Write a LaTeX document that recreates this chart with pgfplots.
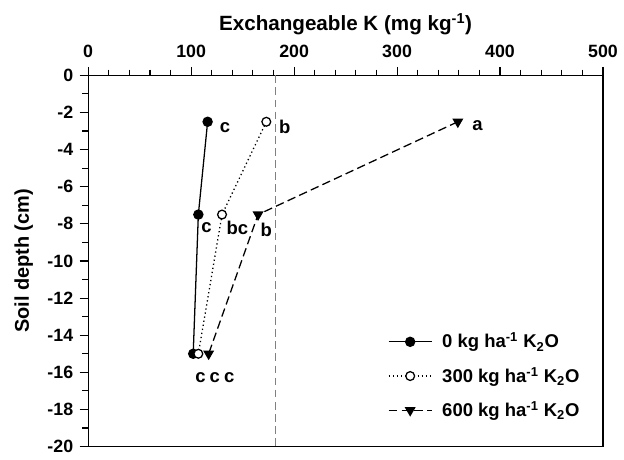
\documentclass[border=0pt]{standalone}
\usepackage{fontspec}
\setmainfont{Liberation Sans}
\usepackage{pgfplots}
\pgfplotsset{compat=1.18}
\begin{document}
\fontsize{13}{15}\selectfont\bfseries
\begin{tikzpicture}
\begin{axis}[
  scale only axis,
  width=362pt, height=261pt,
  xmin=0, xmax=500, ymin=-20, ymax=0,
  xtick={0,100,...,500}, ytick={-20,-18,...,0},
  minor x tick num=4, minor y tick num=1,
  xtick pos=right, xticklabel pos=right,
  ytick pos=left,
  tick align=outside,
  major tick length=6pt, minor tick length=4pt,
  tick style={black, line width=0.8pt},
  axis line style={line width=0.9pt},
  /pgf/number format/assume math mode=true,
  ticklabel style={font=\fontsize{12.5}{15}\selectfont\bfseries},
  xticklabel shift=2pt,
  xlabel={Exchangeable K (mg kg\textsuperscript{-1})},
  xlabel style={font=\fontsize{14.5}{17}\selectfont\bfseries},
  ylabel={Soil depth (cm)},
  ylabel style={font=\fontsize{14}{16}\selectfont\bfseries},
  x label style={at={(axis description cs:0.5,1.12)}, anchor=base},
  y label style={at={(axis description cs:-0.125,0.5)}, anchor=center},
  legend style={draw=none, fill=none, at={(axis cs:291,-16.2)}, anchor=west,
    font=\fontsize{13}{15}\selectfont\bfseries, row sep=7.5pt, column sep=5pt, inner sep=0pt},
  legend cell align=left,
  legend image code/.code={\draw[mark repeat=2,mark phase=2,#1] plot coordinates {(0cm,0cm) (0.53cm,0cm) (1.06cm,0cm)};},
]
\addplot[gray, line width=0.9pt, dash pattern=on 5.5pt off 3pt, forget plot] coordinates {(182,0) (182,-20)};
\addplot[black, line width=0.9pt, mark=*, mark size=3.2pt] coordinates {(116,-2.5) (107,-7.5) (102,-15)};
\addlegendentry{0 kg ha\textsuperscript{-1} K\textsubscript{2}O}
\addplot[black, line width=0.9pt, dotted, mark=*, mark size=3.1pt, mark options={solid, fill=white, draw=black}] coordinates {(173,-2.5) (130,-7.5) (107,-15)};
\addlegendentry{300 kg ha\textsuperscript{-1} K\textsubscript{2}O}
\addplot[black, line width=0.9pt, dash pattern=on 6pt off 3pt, mark=triangle*, mark size=3.6pt, mark options={solid, rotate=180}] coordinates {(359,-2.5) (165,-7.5) (117,-15)};
\addlegendentry{600 kg ha\textsuperscript{-1} K\textsubscript{2}O}
\node at (axis cs:133,-2.8) {c};
\node at (axis cs:191,-2.75) {b};
\node at (axis cs:378,-2.7) {a};
\node at (axis cs:115,-8.2) {c};
\node at (axis cs:145,-8.2) {bc};
\node at (axis cs:173,-8.3) {b};
\node at (axis cs:109,-16.3) {c};
\node at (axis cs:123,-16.3) {c};
\node at (axis cs:137,-16.3) {c};
\end{axis}
\path (current axis.north) -- ++(0pt,53pt);
\path (current axis.west) -- ++(-62pt,0pt);
\path (current axis.south) -- ++(0pt,-5.5pt);
\end{tikzpicture}
\end{document}
